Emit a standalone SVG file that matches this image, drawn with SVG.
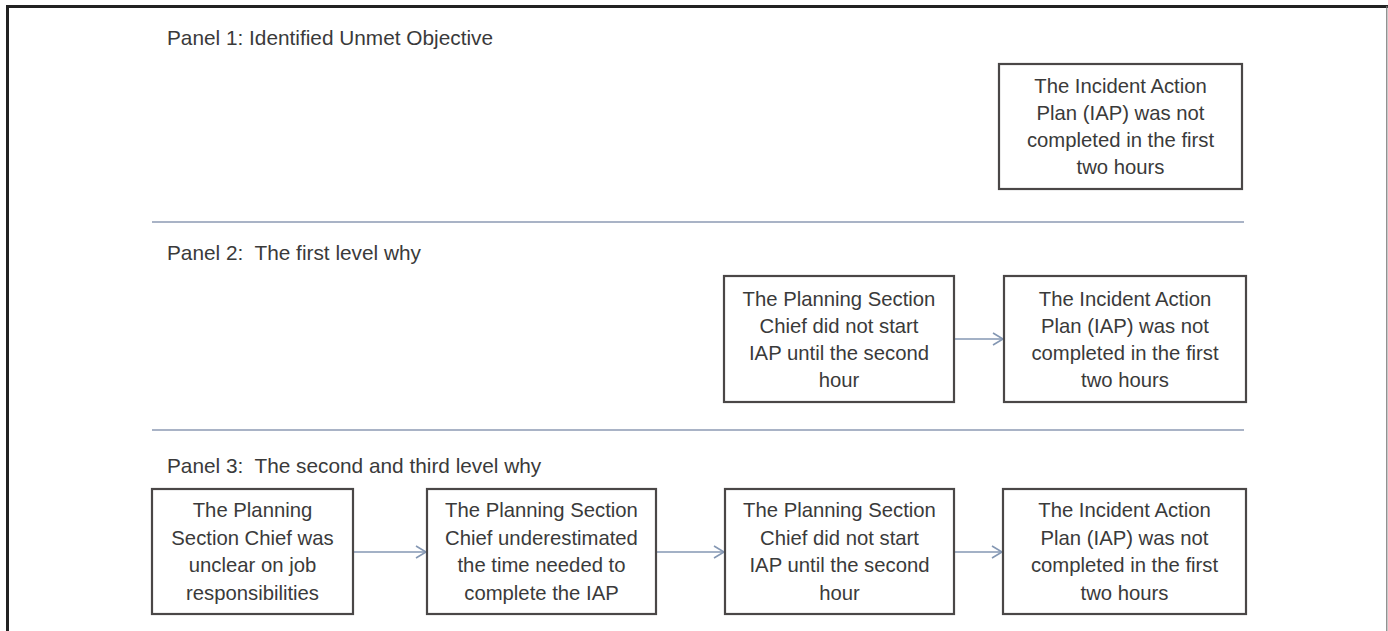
<svg xmlns="http://www.w3.org/2000/svg" width="1388" height="631" viewBox="0 0 1388 631">
  <style>
    .title { font-family: "Liberation Sans", Arial, sans-serif; font-size: 20.8px; fill: #3a3a3a; white-space: pre; }
    .lbl { font-family: "Liberation Sans", Arial, sans-serif; font-size: 20.3px; fill: #3a3a3a; text-anchor: middle; }
    .box { fill: #ffffff; stroke: #4a4747; stroke-width: 2.2; }
    .sep { stroke: #8c9ab3; stroke-width: 1.6; fill: none; }
    .conn { stroke: #8497b3; stroke-width: 1.6; fill: none; marker-end: url(#arr); }
  </style>
  <defs>
    <marker id="arr" markerUnits="userSpaceOnUse" markerWidth="14" markerHeight="16" refX="11" refY="7" orient="auto">
      <path d="M1,1 L11,7 L1,13" fill="none" stroke="#8497b3" stroke-width="1.6"/>
    </marker>
  </defs>
  <rect x="0" y="0" width="1388" height="631" fill="#ffffff"/>
  <g id="frame">
    <line x1="7.5" y1="6.5" x2="1388" y2="6.5" stroke="#222" stroke-width="3"/>
    <line x1="7.5" y1="5" x2="7.5" y2="631" stroke="#222" stroke-width="3"/>
    <line x1="1386.8" y1="6" x2="1386.8" y2="631" stroke="#777" stroke-width="1.2"/>
  </g>
  <g id="panels">
    <text class="title" x="167" y="45">Panel 1: Identified Unmet Objective</text>
    <line class="sep" x1="152" y1="222" x2="1244" y2="222"/>
    <text class="title" x="167" y="260">Panel 2:  The first level why</text>
    <line class="sep" x1="152" y1="430" x2="1244" y2="430"/>
    <text class="title" x="167" y="473">Panel 3:  The second and third level why</text>
  </g>
  <g id="connectors">
    <line class="conn" x1="954" y1="339" x2="1003" y2="339"/>
    <line class="conn" x1="353" y1="552" x2="426" y2="552"/>
    <line class="conn" x1="656" y1="552" x2="724" y2="552"/>
    <line class="conn" x1="954" y1="552" x2="1002" y2="552"/>
  </g>
  <g id="p1-iap">
    <rect class="box" x="999" y="64" width="243" height="125"/>
    <text class="lbl" x="1120.5" y="93"><tspan x="1120.5">The Incident Action</tspan><tspan x="1120.5" dy="27">Plan (IAP) was not</tspan><tspan x="1120.5" dy="27">completed in the first</tspan><tspan x="1120.5" dy="27">two hours</tspan></text>
  </g>
  <g id="p2-chief">
    <rect class="box" x="724" y="276" width="230" height="126"/>
    <text class="lbl" x="839" y="305.5"><tspan x="839">The Planning Section</tspan><tspan x="839" dy="27">Chief did not start</tspan><tspan x="839" dy="27">IAP until the second</tspan><tspan x="839" dy="27">hour</tspan></text>
  </g>
  <g id="p2-iap">
    <rect class="box" x="1004" y="276" width="242" height="126"/>
    <text class="lbl" x="1125" y="305.5"><tspan x="1125">The Incident Action</tspan><tspan x="1125" dy="27">Plan (IAP) was not</tspan><tspan x="1125" dy="27">completed in the first</tspan><tspan x="1125" dy="27">two hours</tspan></text>
  </g>
  <g id="p3-unclear">
    <rect class="box" x="152" y="489" width="201" height="125"/>
    <text class="lbl" x="252.5" y="517"><tspan x="252.5">The Planning</tspan><tspan x="252.5" dy="27.5">Section Chief was</tspan><tspan x="252.5" dy="27.5">unclear on job</tspan><tspan x="252.5" dy="27.5">responsibilities</tspan></text>
  </g>
  <g id="p3-underestimated">
    <rect class="box" x="427" y="489" width="229" height="125"/>
    <text class="lbl" x="541.5" y="517"><tspan x="541.5">The Planning Section</tspan><tspan x="541.5" dy="27.5">Chief underestimated</tspan><tspan x="541.5" dy="27.5">the time needed to</tspan><tspan x="541.5" dy="27.5">complete the IAP</tspan></text>
  </g>
  <g id="p3-chief">
    <rect class="box" x="725" y="489" width="229" height="125"/>
    <text class="lbl" x="839.5" y="517"><tspan x="839.5">The Planning Section</tspan><tspan x="839.5" dy="27.5">Chief did not start</tspan><tspan x="839.5" dy="27.5">IAP until the second</tspan><tspan x="839.5" dy="27.5">hour</tspan></text>
  </g>
  <g id="p3-iap">
    <rect class="box" x="1003" y="489" width="243" height="125"/>
    <text class="lbl" x="1124.5" y="517"><tspan x="1124.5">The Incident Action</tspan><tspan x="1124.5" dy="27.5">Plan (IAP) was not</tspan><tspan x="1124.5" dy="27.5">completed in the first</tspan><tspan x="1124.5" dy="27.5">two hours</tspan></text>
  </g>
</svg>
